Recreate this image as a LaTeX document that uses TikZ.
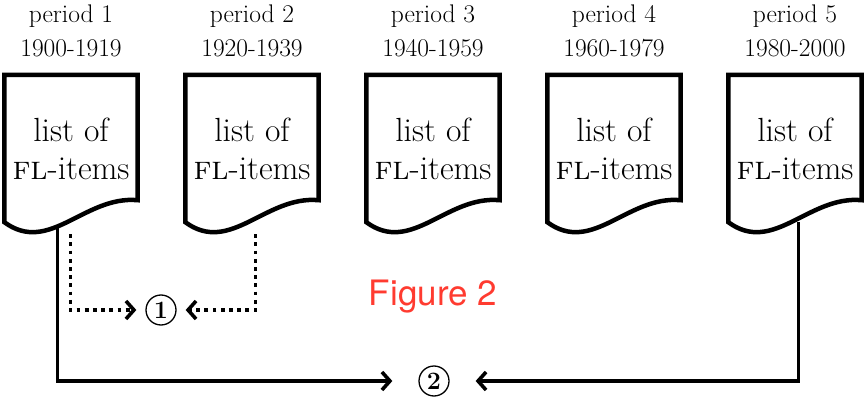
\documentclass[tikz,border=0pt]{standalone}
\usepackage{fontspec}
\newfontfamily\figfont{TeX Gyre Heros}
\usetikzlibrary{arrows.meta}
\definecolor{figred}{RGB}{255,59,48}
\tikzset{
  docbox/.style={minimum width=133pt, minimum height=147pt, inner sep=0pt, align=center,
    font=\fontsize{33.5}{40}\selectfont},
  doclabel/.style={align=center, font=\fontsize{25.5}{33}\selectfont, inner sep=0pt},
  docline/.style={line width=4.5pt, fill=white, line join=miter},
  conn/.style={line width=3.6pt, shorten >=9pt, -{Straight Barb[length=8pt,width=18pt,line width=3.6pt]}},
  farconn/.style={conn, shorten >=26pt},
  dotconn/.style={conn, dash pattern=on 3.8pt off 4.4pt},
  numc/.style={circle, draw, line width=1.3pt, minimum size=30pt, inner sep=0pt,
    font=\fontsize{25}{25}\selectfont\bfseries},
}
\begin{document}
\begin{tikzpicture}[x=1pt,y=-1pt]
\useasboundingbox (0,0) rectangle (867,398);
% documents (nodes)
\foreach \i/\cx/\ya/\yb in {1/71/1900/1919,2/252/1920/1939,3/433/1940/1959,4/614/1960/1979,5/795/1980/2000}{
  \node[docbox] (d\i) at (\cx,148.5) {};
  \node[doclabel] (p\i) at (\cx,16) {period \i};
  \node[doclabel] (y\i) at (\cx,48) {\ya-\yb};
}
\node[numc] (n1) at (161,310) {1};
\node[numc] (n2) at (434,381) {2};
\node[font=\figfont\fontsize{35}{40}\selectfont, text=figred] (fig) at (433,297) {Figure 2};
% connectors
\draw[dotconn] ([xshift=66,yshift=-12]d1.south west) |- (n1.west);
\draw[dotconn] ([xshift=70,yshift=-12]d2.south west) |- (n1.east);
\draw[farconn] ([xshift=53]d1.south west) |- (n2.west);
\draw[farconn] ([xshift=70]d5.south west) |- (n2.east);
% document shapes
\foreach \i in {1,...,5}{
  \draw[docline] (d\i.north west) -- (d\i.north east) -- ([yshift=22]d\i.south east)
    .. controls ([xshift=-53,yshift=27]d\i.south east) and ([xshift=45,yshift=-33]d\i.south west) .. (d\i.south west) -- cycle;
  \node[docbox] at (d\i) {list of\\[-2pt]\textsc{fl}-items};
}
\end{tikzpicture}
\end{document}
